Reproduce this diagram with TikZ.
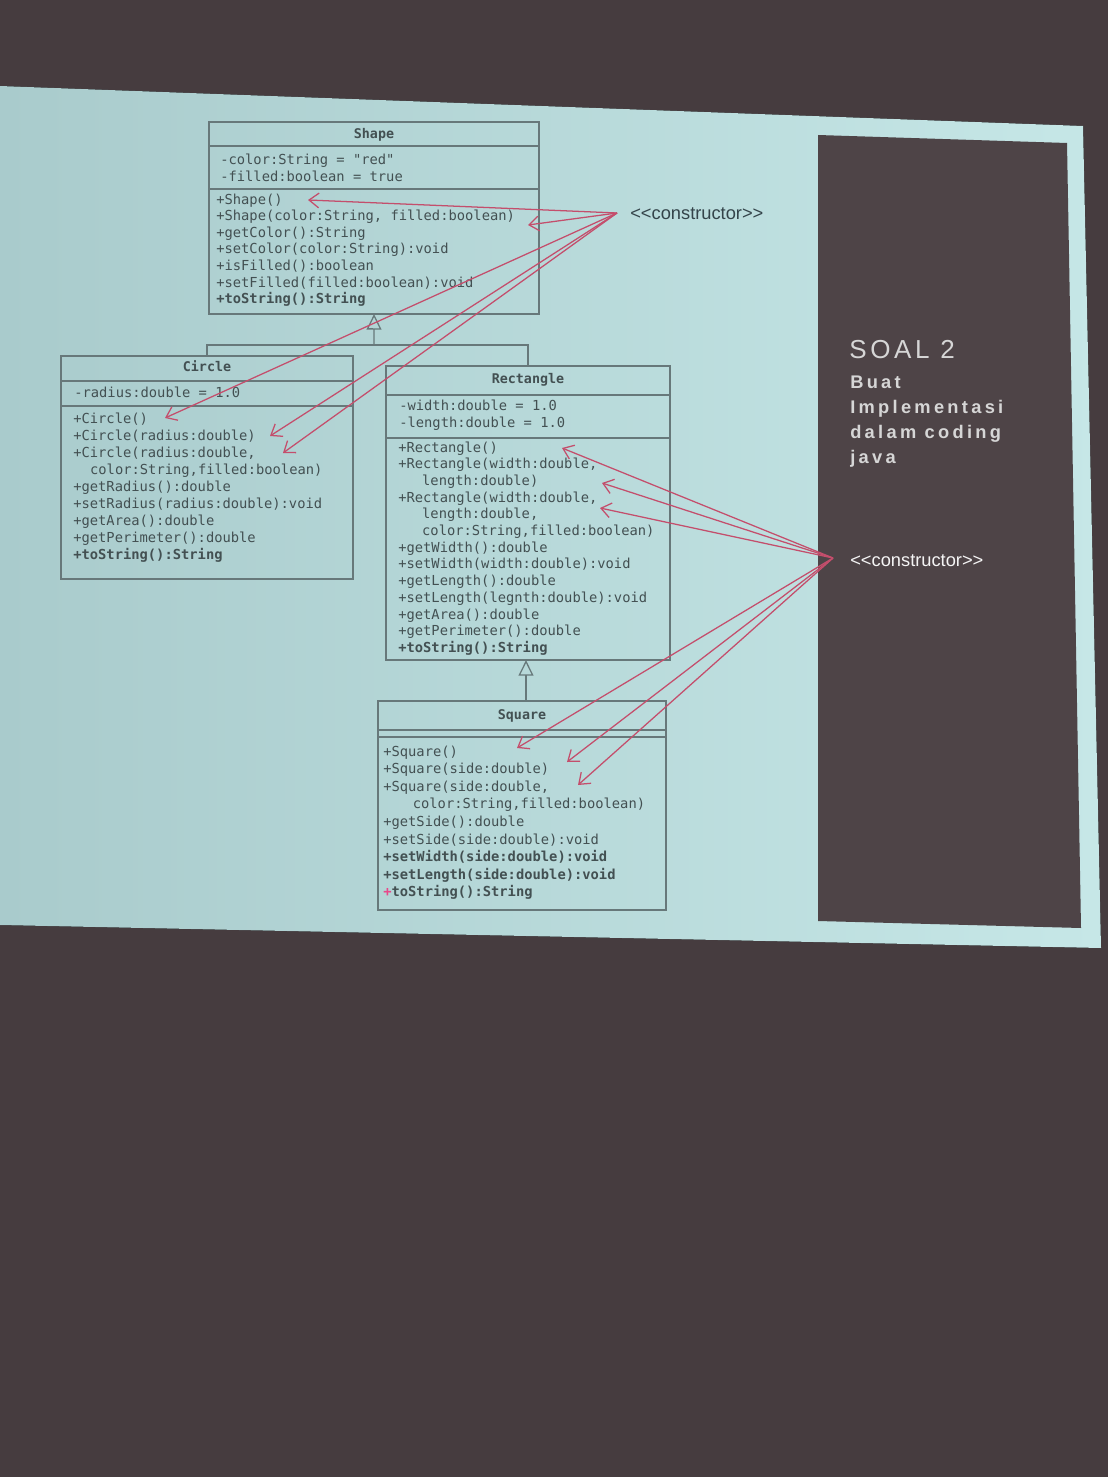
\documentclass[tikz,border=0pt]{standalone}
\usepackage{fontspec}
\usetikzlibrary{arrows.meta}
\newfontfamily\umlmono{DejaVu Sans Mono}
\newfontfamily\labelfont{Liberation Sans}
\newfontfamily\soaltitle[LetterSpace=14]{Liberation Sans}
\newfontfamily\soalbody[LetterSpace=18]{Liberation Sans Bold}
\definecolor{bgdark}{HTML}{463C3F}
\definecolor{slideL}{HTML}{A9CBCC}
\definecolor{slideR}{HTML}{C6E7E7}
\definecolor{panelc}{HTML}{4E4447}
\definecolor{umlline}{HTML}{67787A}
\definecolor{umltext}{HTML}{435052}
\definecolor{arrowc}{HTML}{C44E6C}
\definecolor{soaltext}{HTML}{D6D6D6}
\definecolor{labeldark}{HTML}{34444A}
\definecolor{pinkplus}{HTML}{E8488A}
\begin{document}
\begin{tikzpicture}[x=0.025cm,y=-0.025cm,
  umlbox/.style={draw=umlline, line width=1pt, rectangle, inner sep=0pt, outer sep=0pt, anchor=north west},
  divider/.style={draw=umlline, line width=1pt},
  mtext/.style={anchor=mid west, inner sep=0pt, font=\umlmono\fontsize{9.8}{12}\selectfont, text=umltext},
  ttl/.style={anchor=mid, inner sep=0pt, font=\umlmono\bfseries\fontsize{9.5}{11}\selectfont, text=umltext},
  inh/.style={draw=umlline, line width=0.9pt},
  inhtip/.style={inh, -{Triangle[open, length=11pt, width=10.5pt]}},
  ctor/.style={draw=arrowc, line width=0.9pt, -{Straight Barb[length=7pt, width=10.5pt]}},
  lab/.style={anchor=mid west, inner sep=0pt, font=\labelfont\fontsize{13}{15}\selectfont}
]
\useasboundingbox (0,0) rectangle (1108,1477);
% background, slide, side panel
\fill[bgdark] (0,0) rectangle (1108,1477);
\fill[left color=slideL, right color=slideR] (0,86) -- (1083,126) -- (1101,948) -- (0,925) -- cycle;
\fill[panelc] (818,135) -- (1067,143) -- (1081,928) -- (818,921) -- cycle;

% ---------- Shape ----------
\node[umlbox, minimum width=8.25cm, minimum height=4.8cm] (shape) at (209,122) {};
\draw[divider] (209,146) -- (539,146);
\draw[divider] (209,189) -- (539,189);
\node[ttl] (shapettl) at (374,135) {Shape};
\foreach \t [count=\i from 0] in {{-color:String = "red"},{-filled:boolean = true}}
  \node[mtext] (sha\i) at (220,{161+17*\i}) {\t};
\foreach \t [count=\i from 0] in {{+Shape()},{+Shape(color:String, filled:boolean)},{+getColor():String},{+setColor(color:String):void},{+isFilled():boolean},{+setFilled(filled:boolean):void},{\bfseries +toString():String}}
  \node[mtext] (shm\i) at (216,{201+16.6*\i}) {\t};

% ---------- Circle ----------
\node[umlbox, minimum width=7.3cm, minimum height=5.575cm] (circle) at (61,356) {};
\draw[divider] (61,381) -- (353,381);
\draw[divider] (61,406) -- (353,406);
\node[ttl] (circlettl) at (207,368) {Circle};
\node[mtext] (cia0) at (74,394) {-radius:double = 1.0};
\foreach \t [count=\i from 0] in {{+Circle()},{+Circle(radius:double)},{+Circle(radius:double,},{\hspace{12pt}color:String,filled:boolean)},{+getRadius():double},{+setRadius(radius:double):void},{+getArea():double},{+getPerimeter():double},{\bfseries +toString():String}}
  \node[mtext] (cim\i) at (73,{420+17.1*\i}) {\t};

% ---------- Rectangle ----------
\node[umlbox, minimum width=7.1cm, minimum height=7.35cm] (rect) at (386,366) {};
\draw[divider] (386,395) -- (670,395);
\draw[divider] (386,438) -- (670,438);
\node[ttl] (rectttl) at (528,380) {Rectangle};
\foreach \t [count=\i from 0] in {{-width:double = 1.0},{-length:double = 1.0}}
  \node[mtext] (rea\i) at (399,{407+17*\i}) {\t};
\foreach \t [count=\i from 0] in {{+Rectangle()},{+Rectangle(width:double,},{\hspace{17pt}length:double)},{+Rectangle(width:double,},{\hspace{17pt}length:double,},{\hspace{17pt}color:String,filled:boolean)},{+getWidth():double},{+setWidth(width:double):void},{+getLength():double},{+setLength(legnth:double):void},{+getArea():double},{+getPerimeter():double},{\bfseries +toString():String}}
  \node[mtext] (rem\i) at (398,{449+16.7*\i}) {\t};

% ---------- Square ----------
\node[umlbox, minimum width=7.2cm, minimum height=5.225cm] (square) at (378,701) {};
\draw[divider] (378,730) -- (666,730);
\draw[divider] (378,737) -- (666,737);
\node[ttl] (squarettl) at (522,716) {Square};
\foreach \t [count=\i from 0] in {{+Square()},{+Square(side:double)},{+Square(side:double,},{\hspace{21pt}color:String,filled:boolean)},{+getSide():double},{+setSide(side:double):void},{\bfseries +setWidth(side:double):void},{\bfseries +setLength(side:double):void},{\bfseries\textcolor{pinkplus}{+}toString():String}}
  \node[mtext] (sqm\i) at (383,{753+17.6*\i}) {\t};

% ---------- inheritance ----------
\coordinate (j1) at (374,345);
\draw[inh] (circle.north) |- (j1) -| (rect.north);
\draw[inhtip] (j1) -- (shape.south);
\coordinate (j2) at (526,701);
\draw[inhtip] (j2) -- (rect.south -| j2);

% ---------- constructor labels ----------
\node[lab, text=labeldark] (lab1) at (630,216) {<<constructor>>};
\node[lab, text=white!92!gray] (lab2) at (850,563) {<<constructor>>};
\coordinate (s1) at (617,213);
\coordinate (s2) at (833,558);

% targets
\coordinate (t1) at (308,200);
\coordinate (t2) at (528,225);
\coordinate (t3) at (165,418);
\coordinate (t4) at (270,436);
\coordinate (t5) at (283,453);
\coordinate (t6) at (562,448);
\coordinate (t7) at (602,483);
\coordinate (t8) at (600,508);
\coordinate (t9) at (517,748);
\coordinate (t10) at (567,762);
\coordinate (t11) at (578,785);
\foreach \k in {1,...,5} \draw[ctor] (s1) -- (t\k);
\foreach \k in {6,...,11} \draw[ctor] (s2) -- (t\k);

% ---------- side panel text ----------
\node[anchor=base west, inner sep=0pt, font=\soaltitle\fontsize{18.5}{20}\selectfont, text=soaltext] (soal) at (849,358) {SOAL 2};
\node[anchor=base west, inner sep=0pt, font=\soalbody\fontsize{13}{15}\selectfont, text=soaltext] (d1) at (850,388) {Buat};
\node[anchor=base west, inner sep=0pt, font=\soalbody\fontsize{13}{15}\selectfont, text=soaltext] (d2) at (850,413) {Implementasi};
\node[anchor=base west, inner sep=0pt, font=\soalbody\fontsize{13}{15}\selectfont, text=soaltext] (d3) at (850,438) {dalam coding};
\node[anchor=base west, inner sep=0pt, font=\soalbody\fontsize{13}{15}\selectfont, text=soaltext] (d4) at (850,463) {java};
\end{tikzpicture}
\end{document}
